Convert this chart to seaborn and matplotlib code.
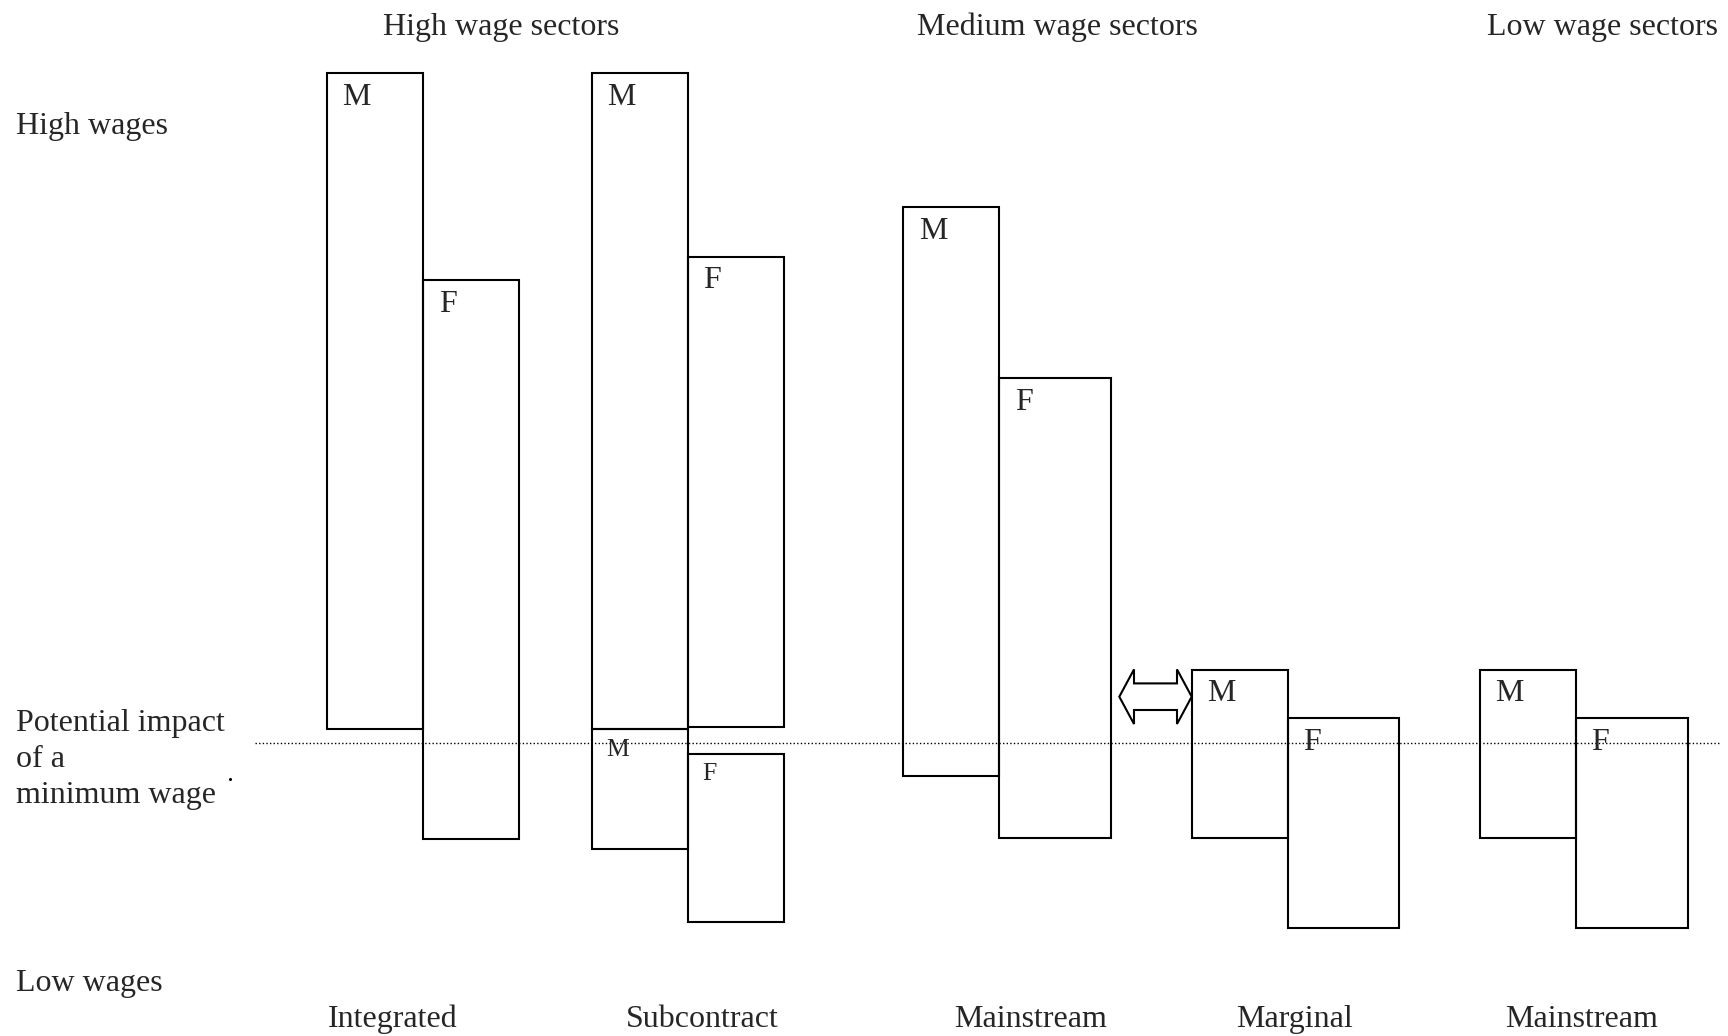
import matplotlib
matplotlib.use("Agg")
import matplotlib.pyplot as plt
import matplotlib.patches as mpatches
import pandas as pd
import seaborn as sns

# Wage-position boxes (scale runs top = high wages)
box_sector = ["Integrated", "Integrated", "Subcontract", "Subcontract", "Subcontract", "Subcontract",
              "Mainstream", "Mainstream", "Marginal", "Marginal", "Mainstream (low)", "Mainstream (low)"]
box_label = ["M", "F", "M", "F", "M", "F", "M", "F", "M", "F", "M", "F"]
box_left = [326.7, 423.3, 591.5, 687.5, 591.5, 687.5, 903.3, 999.3, 1191.7, 1287.7, 1479.7, 1576.0]
box_width = [96.6, 96.0, 96.0, 96.0, 96.0, 96.0, 96.0, 112.0, 96.0, 111.6, 96.3, 111.7]
box_top = [73.3, 280.0, 73.3, 256.7, 729.0, 754.0, 207.3, 378.0, 669.7, 718.3, 669.7, 718.3]
box_bottom = [728.5, 838.6, 729.0, 727.0, 849.3, 922.0, 775.8, 837.7, 837.7, 928.3, 837.7, 928.3]
label_small = [False, False, False, False, True, True, False, False, False, False, False, False]

sector_titles = ["High wage sectors", "Medium wage sectors", "Low wage sectors"]
sector_title_x = [383.3, 916.7, 1486.7]

firm_types = ["Integrated", "Subcontract", "Mainstream", "Marginal", "Mainstream"]
firm_type_x = [392.3, 702.0, 1030.4, 1294.9, 1581.5]

min_wage_level = 742.5

W, H = 1728, 1036
df = pd.DataFrame({
    "sector": box_sector, "label": box_label, "left": box_left, "width": box_width,
    "top": box_top, "bottom": box_bottom, "small": label_small,
})

sns.set_theme(style="white")
plt.rcParams["font.family"] = ["Liberation Serif", "DejaVu Serif"]

fig = plt.figure(figsize=(W / 100, H / 100), dpi=100)
ax = fig.add_axes([0, 0, 1, 1])
ax.set_xlim(0, W)
ax.set_ylim(H, 0)
ax.axis("off")

FS = 23

# floating boxes
ax.bar(df["left"], df["bottom"] - df["top"], bottom=df["top"], width=df["width"],
       align="edge", fill=False, edgecolor="black", linewidth=1.5)

for _, r in df.iterrows():
    if r["small"]:
        ax.text(r["left"] + 15, r["top"] + 26.5, r["label"], fontsize=18.5,
                va="baseline", ha="left")
    else:
        ax.text(r["left"] + 15.5, r["top"] + 31.7, r["label"], fontsize=FS,
                va="baseline", ha="left")

# minimum wage line
ax.hlines(min_wage_level, 254.6, 1719, colors="black", linewidth=1.0,
          linestyles=(0, (1, 1.6)))
ax.plot([230], [779], marker="o", markersize=1.2, color="black")

# hollow double arrow between mainstream and marginal
x0, x1, yc = 1119.3, 1191.7, 696.7
head_len, head_h, shaft_h = 14.7, 27.3, 13.3
arrow_pts = [
    (x0, yc), (x0 + head_len, yc - head_h), (x0 + head_len, yc - shaft_h),
    (x1 - head_len, yc - shaft_h), (x1 - head_len, yc - head_h), (x1, yc),
    (x1 - head_len, yc + head_h), (x1 - head_len, yc + shaft_h),
    (x0 + head_len, yc + shaft_h), (x0 + head_len, yc + head_h),
]
ax.add_patch(mpatches.Polygon(arrow_pts, closed=True, fill=False,
                              edgecolor="black", linewidth=1.5))

# text
for t, x in zip(sector_titles, sector_title_x):
    ax.text(x, 34.5, t, fontsize=FS, va="baseline", ha="left")
for t, x in zip(firm_types, firm_type_x):
    ax.text(x, 1026.8, t, fontsize=FS, va="baseline", ha="center")

ax.text(16, 133.8, "High wages", fontsize=FS, va="baseline", ha="left")
ax.text(16, 991, "Low wages", fontsize=FS, va="baseline", ha="left")
for i, line in enumerate(["Potential impact", "of a", "minimum wage"]):
    ax.text(16, 730.5 + i * 36.2, line, fontsize=FS, va="baseline", ha="left")

fig.savefig("out.png", dpi=100)
